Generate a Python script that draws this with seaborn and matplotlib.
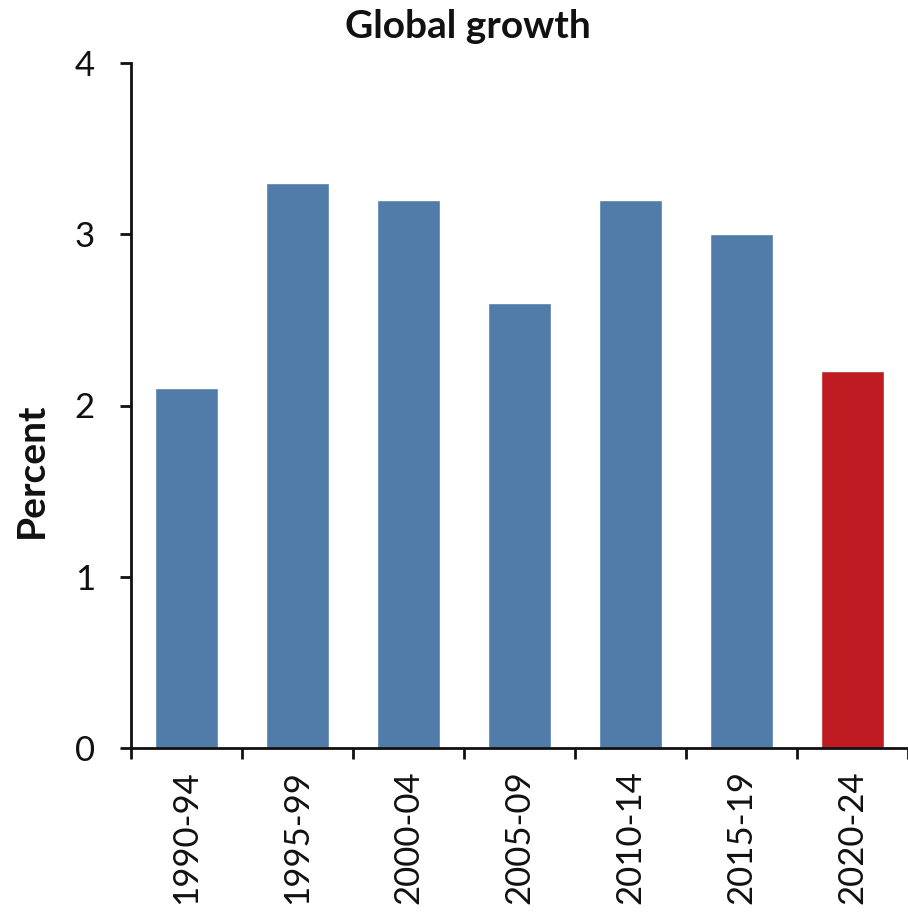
import numpy as np
import pandas as pd
import matplotlib
matplotlib.use("Agg")
import matplotlib.pyplot as plt
import seaborn as sns

periods = ["1990-94", "1995-99", "2000-04", "2005-09", "2010-14", "2015-19", "2020-24"]
growth = [2.1, 3.3, 3.2, 2.6, 3.2, 3.0, 2.2]
bar_colors = ["#517BA8", "#517BA8", "#517BA8", "#517BA8", "#517BA8", "#517BA8", "#BE1B22"]
y_ticks = [0, 1, 2, 3, 4]

sns.set_theme(style="ticks")
plt.rcParams["font.family"] = ["Lato", "DejaVu Sans"]

df = pd.DataFrame({"period": periods, "growth": growth})

fig = plt.figure(figsize=(9.08, 9.17), dpi=100)
ax = fig.add_axes([131 / 908, 1 - 748 / 917, 1 - 131 / 908, (748 - 63) / 917])

sns.barplot(data=df, x="period", y="growth", hue="period", palette=bar_colors,
            legend=False, width=0.56, saturation=1, ax=ax)

ax.set_xlim(-0.5, len(periods) - 0.5)
ax.set_ylim(0, 4)
ax.set_yticks(y_ticks)
ax.set_yticklabels([str(t) for t in y_ticks], fontsize=25, color="#111111")

# category labels centred under bars, tick marks on category boundaries
ax.set_xticks(range(len(periods)))
ax.set_xticklabels(periods, rotation=90, fontsize=25, color="#111111")
ax.set_xticks(np.arange(-0.5, len(periods), 1), minor=True)
ax.tick_params(axis="x", which="major", length=0, pad=16)
ax.tick_params(axis="x", which="minor", length=8, width=2, color="#111111", direction="out")
ax.tick_params(axis="y", which="major", length=8, width=2, color="#111111", pad=18, direction="out")

for side in ["top", "right"]:
    ax.spines[side].set_visible(False)
for side in ["left", "bottom"]:
    ax.spines[side].set_linewidth(2)
    ax.spines[side].set_color("#111111")

ax.set_xlabel("")
ax.set_ylabel("Percent", fontsize=28, fontweight="bold", color="#111111")
ax.yaxis.set_label_coords((49 - 131) / (908 - 131), (748 - 470) / (748 - 63))
ax.set_title("Global growth", fontsize=28, fontweight="bold", color="#111111", pad=18,
             x=(468 - 131) / (908 - 131))

fig.savefig("out.png", dpi=100, facecolor="white")
